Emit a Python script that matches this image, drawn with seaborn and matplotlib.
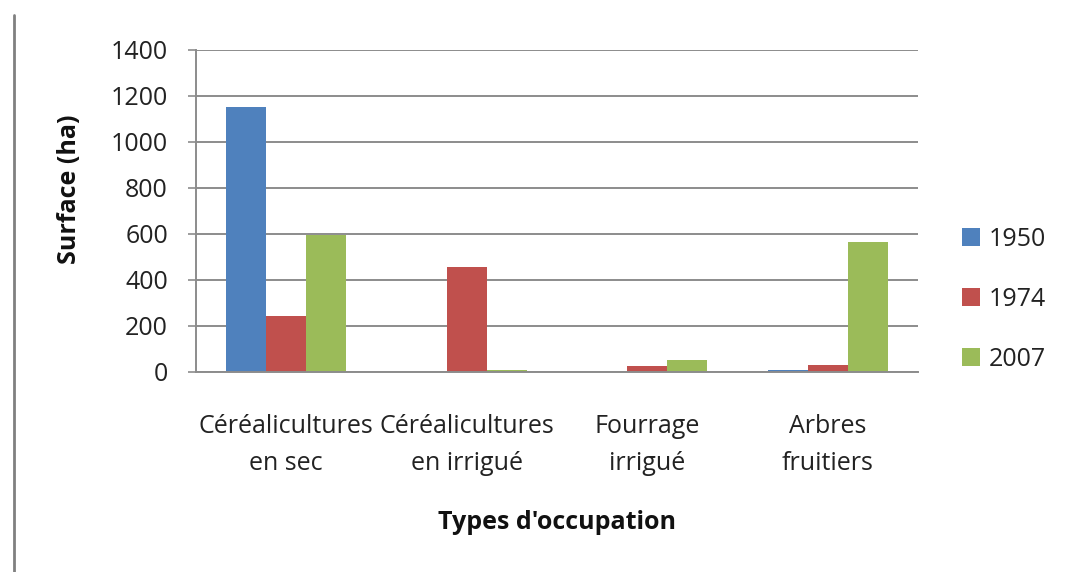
import matplotlib
matplotlib.use("Agg")
import matplotlib.pyplot as plt
from matplotlib.lines import Line2D
import seaborn as sns
import pandas as pd

# Land-use categories and surfaces (ha) per survey year
categories = ["Céréalicultures\nen sec", "Céréalicultures\nen irrigué", "Fourrage\nirrigué", "Arbres\nfruitiers"]
years = ["1950", "1974", "2007"]
surface_1950 = [1150, 0, 0, 10]
surface_1974 = [245, 455, 25, 30]
surface_2007 = [595, 10, 50, 565]
y_ticks = [0, 200, 400, 600, 800, 1000, 1200, 1400]

colors = ["#4F81BD", "#C0504D", "#9BBB59"]

rows = []
for year, values in zip(years, [surface_1950, surface_1974, surface_2007]):
    for cat, v in zip(categories, values):
        rows.append({"Type": cat, "Année": year, "Surface": v})
df = pd.DataFrame(rows)

sns.set_theme(style="white")
plt.rcParams["font.family"] = ["Open Sans", "DejaVu Sans"]

fs = 18
fig = plt.figure(figsize=(10.65, 5.72), dpi=100)
ax = fig.add_axes([0.1838, 0.3497, 0.678, 0.5629])

sns.barplot(data=df, x="Type", y="Surface", hue="Année", hue_order=years,
            order=categories, palette=colors, saturation=1, width=0.665,
            gap=0, linewidth=0, errorbar=None, ax=ax)

ax.set_ylim(0, 1400)
ax.set_xlim(-0.5, len(categories) - 0.5)
ax.set_yticks(y_ticks)
ax.set_yticklabels([str(t) for t in y_ticks])

grid_color = "#8C8C8C"
ax.yaxis.grid(True, color=grid_color, linewidth=1.4)
ax.set_axisbelow(True)
for side in ["top", "right"]:
    ax.spines[side].set_visible(False)
for side in ["left", "bottom"]:
    ax.spines[side].set_color(grid_color)
    ax.spines[side].set_linewidth(1.4)

ax.tick_params(axis="y", which="major", left=True, length=6, width=1.2,
               color=grid_color, pad=14, labelsize=fs, labelcolor="#222222")
ax.tick_params(axis="x", which="major", bottom=False, pad=24,
               labelsize=fs, labelcolor="#222222")
for lab in ax.get_xticklabels():
    lab.set_linespacing(1.65)

ax.set_ylabel("Surface (ha)", fontsize=fs, fontweight="bold", color="#111111")
ax.yaxis.set_label_coords(-0.157, 0.568)
ax.set_xlabel("Types d'occupation", fontsize=fs, fontweight="bold", color="#111111")
ax.xaxis.set_label_coords(0.5, -0.43)

ax.legend(loc="center left", bbox_to_anchor=(0.892, 0.477),
          bbox_transform=fig.transFigure, frameon=False, fontsize=fs,
          handlelength=0.7, handleheight=0.7, handletextpad=0.35,
          labelspacing=1.4, borderpad=0, labelcolor="#222222")

# Page border on the left edge
fig.add_artist(Line2D([0.0127, 0.0127], [0.0, 1 - 15 / 572],
                      transform=fig.transFigure, color="#808080", linewidth=2))

fig.savefig("out.png", dpi=100)
